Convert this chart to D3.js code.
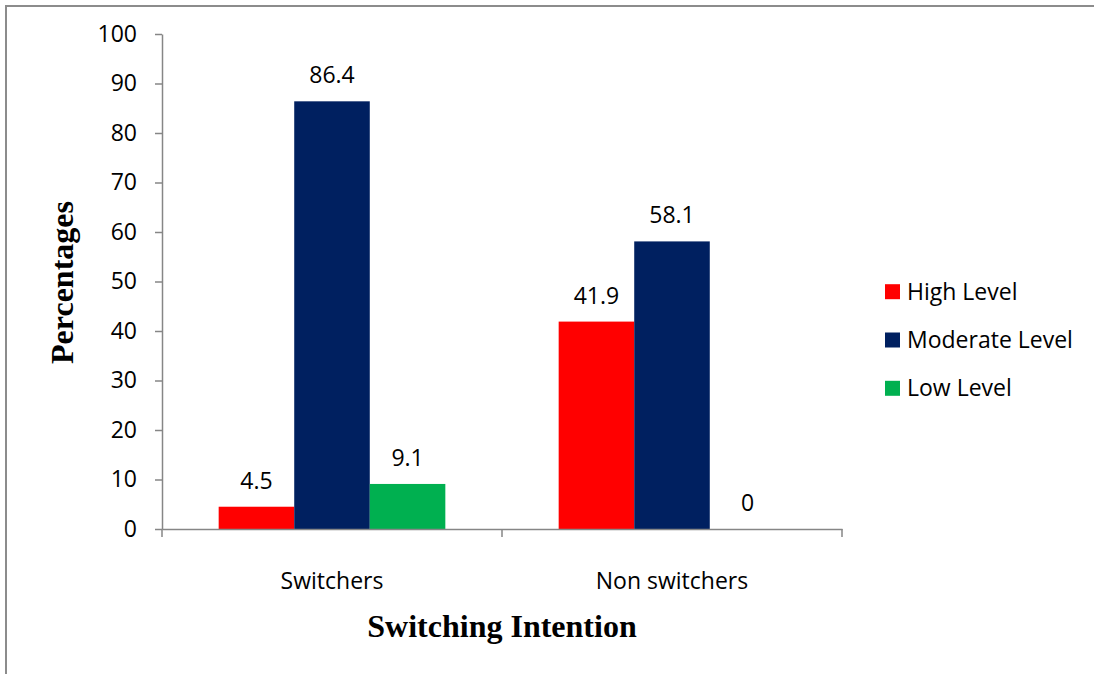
<!DOCTYPE html>
<html>
<head>
<meta charset="utf-8">
<script src="https://cdn.jsdelivr.net/npm/d3@7"></script>
<style>
  html, body { margin: 0; padding: 0; background: #fff; }
  svg { display: block; }
</style>
</head>
<body>
<svg id="chart" width="1094" height="674"></svg>
<script>
const categories = ["Switchers", "Non switchers"];
const seriesNames = ["High Level", "Moderate Level", "Low Level"];
const highLevel = [4.5, 41.9];
const moderateLevel = [86.4, 58.1];
const lowLevel = [9.1, 0];
const seriesColors = ["#FF0000", "#002060", "#00B050"];
const yTicks = [0, 10, 20, 30, 40, 50, 60, 70, 80, 90, 100];

(function () {
const seriesValues = [highLevel, moderateLevel, lowLevel];
const data = categories.map((c, i) => ({
  cat: c,
  vals: seriesNames.map((s, j) => ({ series: s, value: seriesValues[j][i], color: seriesColors[j] }))
}));

const svg = d3.select("#chart");
const sansFont = "'Open Sans', sans-serif";
const serifFont = "'Liberation Serif', 'Times New Roman', serif";
const axisColor = "#868686";
const fs = 23;

// outer frame (extends past bottom/right edges like the reference crop)
svg.append("rect")
  .attr("x", 6).attr("y", 6).attr("width", 1200).attr("height", 800)
  .attr("fill", "none").attr("stroke", "#8c8c8c").attr("stroke-width", 2);

const pLeft = 162, pRight = 842, pTop = 34, pBottom = 529;
const x0 = d3.scaleBand().domain(categories).range([pLeft, pRight]).paddingInner(0).paddingOuter(0);
const x1 = d3.scaleBand().domain(seriesNames).range([0, x0.bandwidth()]).paddingInner(0).paddingOuter(0.75);
const y = d3.scaleLinear().domain([0, 100]).range([pBottom, pTop]);

// bars
const groups = svg.append("g").selectAll("g").data(data).join("g")
  .attr("transform", d => `translate(${x0(d.cat)},0)`);
groups.selectAll("rect").data(d => d.vals).join("rect")
  .attr("x", d => x1(d.series))
  .attr("y", d => y(d.value))
  .attr("width", x1.bandwidth())
  .attr("height", d => y(0) - y(d.value))
  .attr("fill", d => d.color);
groups.selectAll("text").data(d => d.vals).join("text")
  .attr("x", d => x1(d.series) + x1.bandwidth() / 2)
  .attr("y", d => y(d.value) - 18)
  .attr("text-anchor", "middle")
  .attr("font-family", sansFont).attr("font-size", fs).attr("fill", "#000")
  .text(d => d.value);

// y axis
const yAxis = svg.append("g").attr("transform", `translate(${pLeft},0)`)
  .call(d3.axisLeft(y).tickValues(yTicks).tickSize(7).tickPadding(18).tickSizeOuter(0));
yAxis.select(".domain").attr("stroke", axisColor).attr("stroke-width", 1.5);
yAxis.selectAll(".tick line").attr("stroke", axisColor).attr("stroke-width", 1.5);
yAxis.selectAll(".tick text").attr("font-family", sansFont).attr("font-size", fs).attr("fill", "#000");

// x axis
const xAxis = svg.append("g").attr("transform", `translate(0,${pBottom})`)
  .call(d3.axisBottom(x0).tickSize(0).tickPadding(44));
xAxis.select(".domain").attr("stroke", axisColor).attr("stroke-width", 1.5);
xAxis.selectAll(".tick text").attr("font-family", sansFont).attr("font-size", fs).attr("fill", "#000");
// category boundary ticks
const bounds = [pLeft].concat(categories.map(c => x0(c) + x0.bandwidth()));
svg.append("g").selectAll("line").data(bounds).join("line")
  .attr("x1", d => d).attr("x2", d => d)
  .attr("y1", pBottom).attr("y2", pBottom + 8)
  .attr("stroke", axisColor).attr("stroke-width", 1.5);

// axis titles
svg.append("text")
  .attr("transform", `translate(73,${(pTop + pBottom) / 2 + 1}) rotate(-90)`)
  .attr("text-anchor", "middle")
  .attr("font-family", serifFont).attr("font-weight", "bold").attr("font-size", 32)
  .attr("fill", "#000").text("Percentages");
svg.append("text")
  .attr("x", (pLeft + pRight) / 2).attr("y", 637)
  .attr("text-anchor", "middle")
  .attr("font-family", serifFont).attr("font-weight", "bold").attr("font-size", 32)
  .attr("fill", "#000").text("Switching Intention");

// legend
const legend = svg.append("g").selectAll("g").data(seriesNames).join("g")
  .attr("transform", (d, i) => `translate(885,${291.7 + i * 48.3})`);
legend.append("rect")
  .attr("x", 0).attr("y", -7.5).attr("width", 15).attr("height", 15)
  .attr("fill", (d, i) => seriesColors[i]);
legend.append("text")
  .attr("x", 22).attr("y", 8)
  .attr("font-family", sansFont).attr("font-size", fs).attr("fill", "#000")
  .text(d => d);
})();
</script>
</body>
</html>
